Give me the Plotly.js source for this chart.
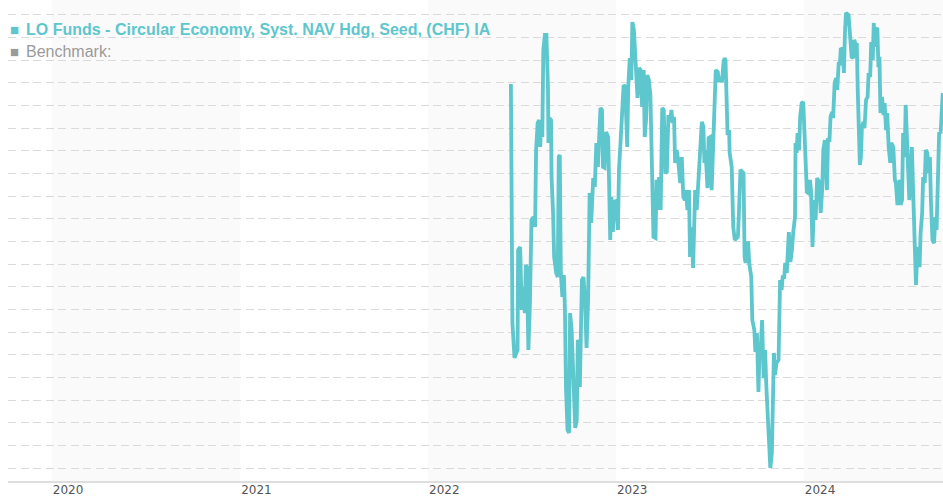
<!DOCTYPE html>
<html>
<head>
<meta charset="utf-8">
<script src="https://cdn.plot.ly/plotly-3.0.1.min.js"></script>
<style>html,body{margin:0;padding:0;background:#fff;}#chart{width:943px;height:500px;}</style>
</head>
<body>
<div id="chart"></div>
<script>
// ---- data (NAV, arbitrary index units) ----
const fundName = "LO Funds - Circular Economy, Syst. NAV Hdg, Seed, (CHF) IA";
const benchmarkName = "Benchmark:";

const dates2022 = [
"2022-06-11","2022-06-12","2022-06-14","2022-06-18","2022-06-24","2022-06-25","2022-06-29","2022-07-02","2022-07-05","2022-07-08",
"2022-07-10","2022-07-12","2022-07-15","2022-07-18","2022-07-21","2022-07-25","2022-07-28","2022-07-30","2022-08-02","2022-08-05",
"2022-08-07","2022-08-08","2022-08-11","2022-08-13","2022-08-16","2022-08-19","2022-08-22","2022-08-23","2022-08-25","2022-08-28",
"2022-08-29","2022-09-01","2022-09-03","2022-09-07","2022-09-10","2022-09-12","2022-09-14","2022-09-16","2022-09-19","2022-09-22",
"2022-09-24","2022-09-26","2022-09-29","2022-10-02","2022-10-04","2022-10-07","2022-10-10","2022-10-14","2022-10-17","2022-10-19",
"2022-10-21","2022-10-23","2022-10-27","2022-10-30","2022-11-02","2022-11-05","2022-11-08","2022-11-11","2022-11-14","2022-11-18",
"2022-11-21","2022-11-24","2022-11-27","2022-11-29","2022-12-02","2022-12-05","2022-12-07","2022-12-10","2022-12-13","2022-12-17",
"2022-12-19","2022-12-21","2022-12-23","2022-12-26","2022-12-30"];
const nav2022 = [
106.95,101.08,96.40,94.86,95.21,99.62,99.76,96.98,97.99,96.84,
98.96,98.87,95.21,97.28,100.95,101.08,100.64,104.04,105.23,105.36,
104.17,104.79,104.61,108.45,109.12,109.12,106.82,104.35,105.45,105.36,
102.85,101.26,99.32,98.61,98.43,103.73,103.82,98.61,97.55,98.52,
96.98,93.58,91.68,91.55,96.84,96.09,93.58,91.77,92.12,95.65,
95.56,93.58,98.30,98.43,97.42,95.30,97.42,102.14,100.82,102.80,
102.41,104.35,103.29,104.48,105.89,105.81,103.29,103.25,104.83,104.61,
101.08,100.07,101.96,100.42,101.83];

const dates2023 = [
"2023-01-02","2023-01-05","2023-01-07","2023-01-10","2023-01-13","2023-01-16","2023-01-19","2023-01-23","2023-01-25","2023-01-28",
"2023-01-31","2023-02-02","2023-02-05","2023-02-08","2023-02-12","2023-02-15","2023-02-18","2023-02-21","2023-02-24","2023-02-26",
"2023-03-01","2023-03-03","2023-03-06","2023-03-09","2023-03-12","2023-03-15","2023-03-19","2023-03-21","2023-03-24","2023-03-26",
"2023-03-29","2023-04-01","2023-04-04","2023-04-07","2023-04-10","2023-04-13","2023-04-16","2023-04-19","2023-04-21","2023-04-24",
"2023-04-26","2023-04-29","2023-05-02","2023-05-06","2023-05-09","2023-05-12","2023-05-15","2023-05-17","2023-05-20","2023-05-23",
"2023-05-25","2023-05-28","2023-05-31","2023-06-04","2023-06-07","2023-06-10","2023-06-13","2023-06-17","2023-06-20","2023-06-22",
"2023-06-24","2023-06-28","2023-06-30","2023-07-03","2023-07-06","2023-07-09","2023-07-11","2023-07-14","2023-07-18","2023-07-20",
"2023-07-22","2023-07-26","2023-07-29","2023-07-31","2023-08-02","2023-08-04","2023-08-06","2023-08-09","2023-08-10","2023-08-14",
"2023-08-17","2023-08-20","2023-08-26","2023-08-28","2023-08-31","2023-09-04","2023-09-06","2023-09-08","2023-09-10","2023-09-13",
"2023-09-15","2023-09-17","2023-09-21","2023-09-23","2023-09-27","2023-09-29","2023-10-02","2023-10-05","2023-10-07","2023-10-10",
"2023-10-12","2023-10-15","2023-10-18","2023-10-20","2023-10-23","2023-10-25","2023-10-28","2023-10-31","2023-11-02","2023-11-04",
"2023-11-06","2023-11-09","2023-11-13","2023-11-14","2023-11-16","2023-11-19","2023-11-21","2023-11-24","2023-11-26","2023-11-29",
"2023-12-01","2023-12-03","2023-12-06","2023-12-09","2023-12-12","2023-12-15","2023-12-16","2023-12-18","2023-12-20","2023-12-23",
"2023-12-25","2023-12-28","2023-12-31"];
const nav2023 = [
101.74,100.51,103.16,104.35,105.94,106.91,106.82,104.17,106.82,108.10,
107.13,109.69,109.34,108.01,106.34,107.66,107.57,105.94,107.57,104.61,
105.50,107.35,107.13,106.47,103.16,100.20,100.15,102.72,101.39,102.85,
101.39,105.89,105.81,103.02,103.07,105.58,105.28,105.81,105.23,105.50,
103.47,104.04,103.60,102.58,103.73,101.96,101.83,102.27,101.39,102.27,
99.32,100.64,98.83,102.27,101.39,102.58,104.17,105.28,105.06,103.47,
104.04,102.36,104.57,104.61,102.27,104.04,105.23,107.57,107.48,107.04,
107.26,107.04,107.88,108.10,108.01,105.36,104.70,104.92,103.91,103.29,
100.64,100.07,100.20,101.26,103.16,103.07,103.02,99.32,99.05,99.93,
99.93,99.05,98.43,96.53,96.09,95.12,95.96,93.36,95.21,95.52,
96.53,93.97,95.21,93.75,91.99,90.79,90.00,90.66,92.25,95.08,
94.11,94.64,94.77,96.67,98.30,97.86,98.43,98.43,99.05,98.61,
99.32,100.42,99.09,99.62,100.51,101.08,104.35,103.91,104.79,104.04,
105.50,106.11,106.16];

const dates2024 = [
"2024-01-02","2024-01-04","2024-01-07","2024-01-10","2024-01-13","2024-01-15","2024-01-18","2024-01-21","2024-01-24","2024-01-27",
"2024-01-31","2024-02-03","2024-02-06","2024-02-08","2024-02-11","2024-02-15","2024-02-17","2024-02-20","2024-02-22","2024-02-25",
"2024-02-27","2024-03-01","2024-03-04","2024-03-06","2024-03-09","2024-03-11","2024-03-13","2024-03-17","2024-03-19","2024-03-21",
"2024-03-23","2024-03-28","2024-03-31","2024-04-03","2024-04-06","2024-04-08","2024-04-11","2024-04-13","2024-04-15","2024-04-17",
"2024-04-19","2024-04-21","2024-04-23","2024-04-26","2024-04-28","2024-05-01","2024-05-04","2024-05-06","2024-05-09","2024-05-11",
"2024-05-14","2024-05-16","2024-05-17","2024-05-20","2024-05-23","2024-05-25","2024-05-27","2024-05-29","2024-06-01","2024-06-04",
"2024-06-06","2024-06-09","2024-06-11","2024-06-14","2024-06-17","2024-06-19","2024-06-23","2024-06-26","2024-06-28","2024-07-01",
"2024-07-05","2024-07-07","2024-07-10","2024-07-12","2024-07-15","2024-07-17","2024-07-19","2024-07-22","2024-07-24","2024-07-27",
"2024-07-29","2024-08-01","2024-08-04","2024-08-06","2024-08-09","2024-08-13","2024-08-15","2024-08-18","2024-08-20","2024-08-23",
"2024-08-25","2024-08-28","2024-08-31","2024-09-02","2024-09-04","2024-09-07","2024-09-10","2024-09-13","2024-09-15","2024-09-17",
"2024-09-20","2024-09-23","2024-09-25","2024-09-27"];
const nav2024 = [
105.23,103.91,102.19,102.14,102.72,102.27,99.76,101.83,100.95,102.80,
102.63,101.26,102.41,104.04,104.48,102.27,104.48,104.48,105.50,105.72,
105.45,107.00,107.22,106.69,107.92,107.79,108.54,108.45,107.44,109.21,
110.09,110.00,109.21,108.15,108.10,108.90,108.68,108.76,106.56,105.06,
103.38,103.73,105.06,105.28,105.01,106.25,106.38,107.44,107.26,108.81,
108.01,109.65,108.59,109.34,109.43,107.70,108.15,105.67,106.38,105.58,
106.11,104.92,105.67,104.17,103.47,104.35,104.17,102.72,102.58,101.61,
102.72,101.61,101.83,104.79,103.73,106.03,104.79,103.73,101.83,103.29,
104.17,101.83,99.49,98.08,99.76,98.87,100.38,101.26,102.85,102.58,
104.04,103.91,103.02,103.73,101.83,100.07,99.93,101.08,100.51,102.85,
104.79,104.83,106.25,106.56];

const yearTicks = ["2020-01-01","2021-01-01","2022-01-01","2023-01-01","2024-01-01"];
const yearLabels = ["2020","2021","2022","2023","2024"];
const shadedStarts = ["2020-01-01","2022-01-01","2024-01-01"];
const shadedEnds   = ["2021-01-01","2023-01-01","2025-01-01"];

// ---- chart ----
const fundColor = "#5ec6cd";
const x = dates2022.concat(dates2023, dates2024);
const y = nav2022.concat(nav2023, nav2024);

const traces = [{
  type: "scatter", mode: "lines", x: x, y: y, name: fundName,
  line: {color: fundColor, width: 3.8, shape: "linear"},
  hoverinfo: "x+y"
}];

const shapes = shadedStarts.map((s, i) => ({
  type: "rect", xref: "x", yref: "paper", x0: s, x1: shadedEnds[i], y0: 0, y1: 1,
  fillcolor: "rgba(246,246,246,0.6)", line: {width: 0}, layer: "between"
}));

const annotations = [
  {xref: "paper", yref: "paper", x: 0.0, y: 0.9395, xanchor: "left", yanchor: "middle",
   text: "■", showarrow: false, font: {family: "Liberation Sans", size: 15, color: fundColor}},
  {xref: "paper", yref: "paper", x: 0.0171, y: 0.9395, xanchor: "left", yanchor: "middle",
   text: "<b>" + fundName + "</b>", showarrow: false, font: {family: "Liberation Sans", size: 16, color: fundColor}},
  {xref: "paper", yref: "paper", x: 0.0, y: 0.8919, xanchor: "left", yanchor: "middle",
   text: "■", showarrow: false, font: {family: "Liberation Sans", size: 15, color: "#9a9a9a"}},
  {xref: "paper", yref: "paper", x: 0.0171, y: 0.8919, xanchor: "left", yanchor: "middle",
   text: benchmarkName, showarrow: false, font: {family: "Liberation Sans", size: 16, color: "#9a9a9a"}}
];

const layout = {
  width: 943, height: 500,
  margin: {l: 8, r: 0, t: 0, b: 19, pad: 0},
  paper_bgcolor: "#ffffff", plot_bgcolor: "#ffffff",
  showlegend: false,
  xaxis: {
    type: "date", range: ["2019-10-08", "2024-09-27 12:00"],
    tickmode: "array", tickvals: yearTicks, ticktext: yearLabels,
    ticklabelposition: "outside right", ticks: "", ticklen: 0,
    ticklabelstandoff: -3,
    showgrid: false, zeroline: false,
    showline: true, linecolor: "#dedede", linewidth: 2,
    tickfont: {family: "DejaVu Sans", size: 12, color: "#555555"}
  },
  yaxis: {
    range: [89.426, 110.662], tick0: 90, dtick: 1,
    showticklabels: false, ticks: "", zeroline: false, showline: false,
    showgrid: true, gridcolor: "#dadada", gridwidth: 1, griddash: "8px,4.5px"
  },
  shapes: shapes,
  annotations: annotations
};

Plotly.newPlot("chart", traces, layout, {displayModeBar: false, staticPlot: true});
</script>
</body>
</html>
